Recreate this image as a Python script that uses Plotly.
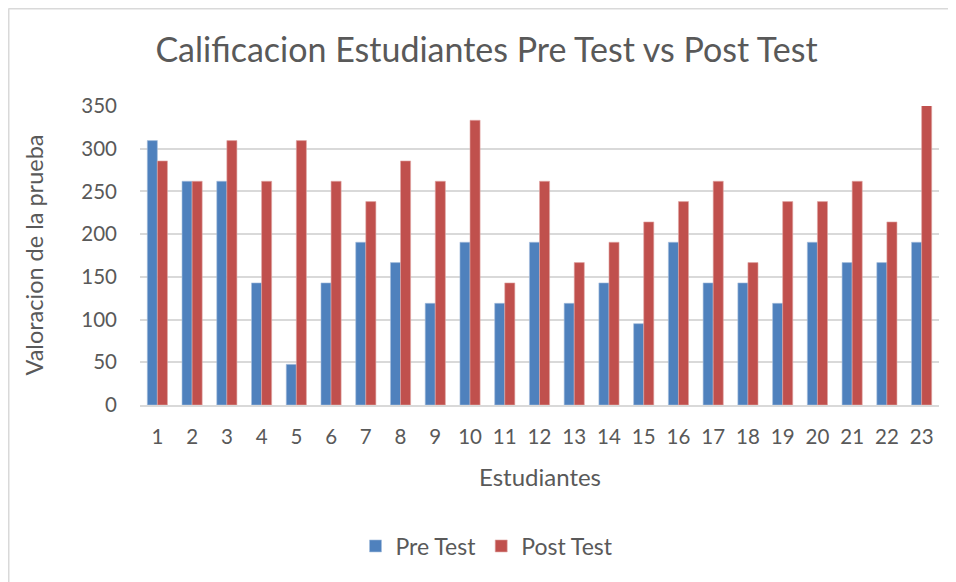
import plotly.graph_objects as go

estudiantes = [str(i) for i in range(1, 24)]
pre_test = [309.5, 261.9, 261.9, 142.9, 47.6, 142.9, 190.5, 166.7, 119.0, 190.5, 119.0, 190.5,
            119.0, 142.9, 95.2, 190.5, 142.9, 142.9, 119.0, 190.5, 166.7, 166.7, 190.5]
post_test = [285.7, 261.9, 309.5, 261.9, 309.5, 261.9, 238.1, 285.7, 261.9, 333.3, 142.9, 261.9,
             166.7, 190.5, 214.3, 238.1, 261.9, 166.7, 238.1, 238.1, 261.9, 214.3, 357.1]
y_ticks = [0, 50, 100, 150, 200, 250, 300, 350]

# the page body has an 8px margin; figure coordinates are offset by it
OFF = 8
W, H = 956 - OFF, 582 - OFF
L, R, T, B = 140 - OFF, 17, 106 - OFF, 177
pw, ph = W - L - R, H - T - B
FONT = "Lato"
TXT = "#595959"

fig = go.Figure()
fig.add_trace(go.Bar(x=estudiantes, y=pre_test, name="Pre Test",
                     marker=dict(color="#4F81BD", line=dict(color="#A8C0DE", width=0.6))))
fig.add_trace(go.Bar(x=estudiantes, y=post_test, name="Post Test",
                     marker=dict(color="#C0504D", line=dict(color="#E0A8A6", width=0.6))))

fig.update_layout(
    width=W, height=H,
    margin=dict(l=L, r=R, t=T, b=B),
    paper_bgcolor="white", plot_bgcolor="white",
    barmode="group", bargap=0.42, bargroupgap=0,
    font=dict(family=FONT, color=TXT, size=20),
    title=dict(text="Calificacion Estudiantes Pre Test vs Post Test",
               font=dict(family=FONT, size=34, color=TXT),
               x=(486.5 - OFF) / W, xanchor="center", xref="container",
               y=1 - (50 - OFF) / H, yanchor="middle", yref="container"),
    xaxis=dict(showgrid=False, showline=True, linecolor="#D9D9D9", linewidth=2,
               ticks="", tickfont=dict(size=20.5, color=TXT), ticklabelstandoff=12),
    yaxis=dict(range=[0, 350], tickvals=y_ticks, showgrid=True, gridcolor="#D9D9D9",
               gridwidth=1.5, zeroline=False, showline=False, ticks="",
               tickfont=dict(size=20.5, color=TXT), ticklabelstandoff=22),
    legend=dict(orientation="h", x=(487 - 140) / pw, xanchor="center",
                y=(405 - 546) / ph, yanchor="middle",
                font=dict(size=23, color=TXT), itemwidth=30, tracegroupgap=0),
    showlegend=True,
    annotations=[
        dict(text="Valoracion de la prueba", textangle=-90, xref="paper", yref="paper",
             x=0, y=0.5, xanchor="center", yanchor="middle", xshift=-(140 - 33),
             showarrow=False, font=dict(size=23.5, color=TXT)),
        dict(text="Estudiantes", xref="paper", yref="paper", x=0.5, y=0,
             xanchor="center", yanchor="middle", yshift=-(476 - 405),
             showarrow=False, font=dict(size=24, color=TXT)),
    ],
    shapes=[
        dict(type="line", xref="paper", yref="paper", x0=(0.5 - L) / pw, x1=(0.5 - L) / pw,
             y0=(T + ph - 0.5) / ph, y1=-1.0, line=dict(color="#D9D9D9", width=2)),
        dict(type="line", xref="paper", yref="paper", x0=(0.5 - L) / pw, x1=1.2,
             y0=(T + ph - 0.5) / ph, y1=(T + ph - 0.5) / ph, line=dict(color="#D9D9D9", width=2)),
    ],
)

fig.write_html("out.html")
